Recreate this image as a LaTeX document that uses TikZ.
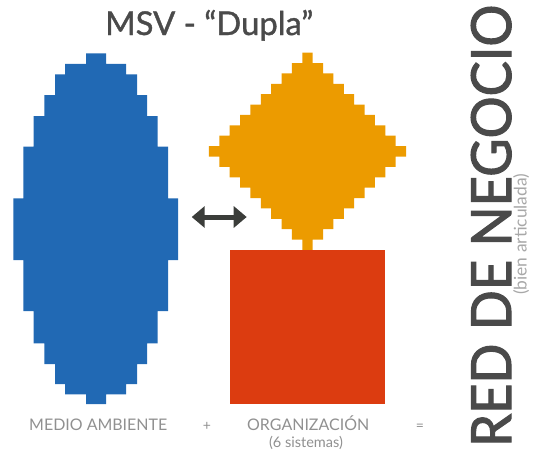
\documentclass[tikz,border=0pt]{standalone}
\usepackage{fontspec}
\setmainfont{Lato}
\newfontfamily\medfont{Lato}[FakeBold=1.2]
\newfontfamily\heavyfont{Lato}[FakeBold=2]
\usetikzlibrary{arrows.meta}
\definecolor{cblue}{HTML}{2169B4}
\definecolor{corange}{HTML}{EC9B00}
\definecolor{cred}{HTML}{DC3C10}
\definecolor{carrow}{HTML}{3B3D3A}
\definecolor{ctitle}{HTML}{4A4A4A}
\definecolor{clabel}{HTML}{909090}
\definecolor{cbig}{HTML}{4A4A4A}
\definecolor{csub}{HTML}{A8A8A8}
\begin{document}
\begin{tikzpicture}[x=1pt,y=-1pt,
  lbl/.style={inner sep=0pt,text=clabel},
  arr/.style={carrow,line width=5pt,{Triangle[length=13pt,width=21pt]}-{Triangle[length=13pt,width=21pt]}}]
\useasboundingbox (0,0) rectangle (535,452);
% blue pixelated ellipse
\fill[cblue] (86,53.3) -- (106,53.3) -- (106,64) -- (126,64) -- (126,74.3) -- (137,74.3) -- (137,95) -- (147,95) -- (147,116) -- (157.5,116) -- (157.5,146.7) -- (168,146.7) -- (168,198.3) -- (178,198.3) -- (178,260) -- (168,260) -- (168,311) -- (157.5,311) -- (157.5,343.3) -- (147,343.3) -- (147,364) -- (137,364) -- (137,384) -- (126,384) -- (126,394.3) -- (106,394.3) -- (106,404) -- (86,404) -- (86,394.3) -- (65,394.3) -- (65,384) -- (55,384) -- (55,364) -- (44.3,364) -- (44.3,343.3) -- (33.7,343.3) -- (33.7,311) -- (23.3,311) -- (23.3,260) -- (13.3,260) -- (13.3,198.3) -- (23.3,198.3) -- (23.3,146.7) -- (33.7,146.7) -- (33.7,116) -- (44.3,116) -- (44.3,95) -- (55,95) -- (55,74.3) -- (65,74.3) -- (65,64) -- (86,64) -- cycle;
% orange pixelated diamond
\def\u{10.38}
\fill[corange] (307.5-0.5*\u,52.7) -- ++(\u,0)
  \foreach \i in {1,...,9}{ -- ++(0,\u) -- ++(\u,0)} -- ++(0,\u)
  \foreach \i in {1,...,9}{ -- ++(-\u,0) -- ++(0,\u)} -- ++(-\u,0)
  \foreach \i in {1,...,9}{ -- ++(0,-\u) -- ++(-\u,0)} -- ++(0,-\u)
  \foreach \i in {1,...,9}{ -- ++(\u,0) -- ++(0,-\u)} -- cycle;
% red square
\fill[cred] (230,249.9) rectangle (385,404);
% arrow
\coordinate (al) at (191.7,217);
\coordinate (ar) at (246.7,217);
\draw[arr] (al) -- (ar);
% title
\node[anchor=base west,inner sep=0pt,text=ctitle] (title) at (105,35) {\resizebox{208pt}{!}{\medfont\fontsize{30}{30}\selectfont MSV - “Dupla”}};
% labels
\node[lbl,anchor=base west] (medio) at (29,430) {\resizebox{138pt}{!}{\fontsize{16}{16}\selectfont MEDIO AMBIENTE}};
\node[lbl,anchor=base] (plus) at (207,430) {\fontsize{14}{14}\selectfont +};
\node[lbl,anchor=base west] (org) at (247,430) {\resizebox{122pt}{!}{\fontsize{16}{16}\selectfont ORGANIZACIÓN}};
\node[lbl,anchor=base] (sist) at (306,447) {\resizebox{74pt}{!}{\fontsize{13}{13}\selectfont (6 sistemas)}};
\node[lbl,anchor=base] (eq) at (420,430) {\fontsize{14}{14}\selectfont =};
% vertical
\node[inner sep=0pt,anchor=base west,rotate=90,text=cbig] (red) at (511,447) {\resizebox{442pt}{40pt}{\heavyfont\fontsize{40}{40}\selectfont RED DE NEGOCIO}};
\node[inner sep=0pt,anchor=base west,rotate=90,text=csub] (bien) at (526.5,295) {\resizebox{121pt}{!}{\fontsize{12}{12}\selectfont (bien articulada)}};
\end{tikzpicture}
\end{document}
